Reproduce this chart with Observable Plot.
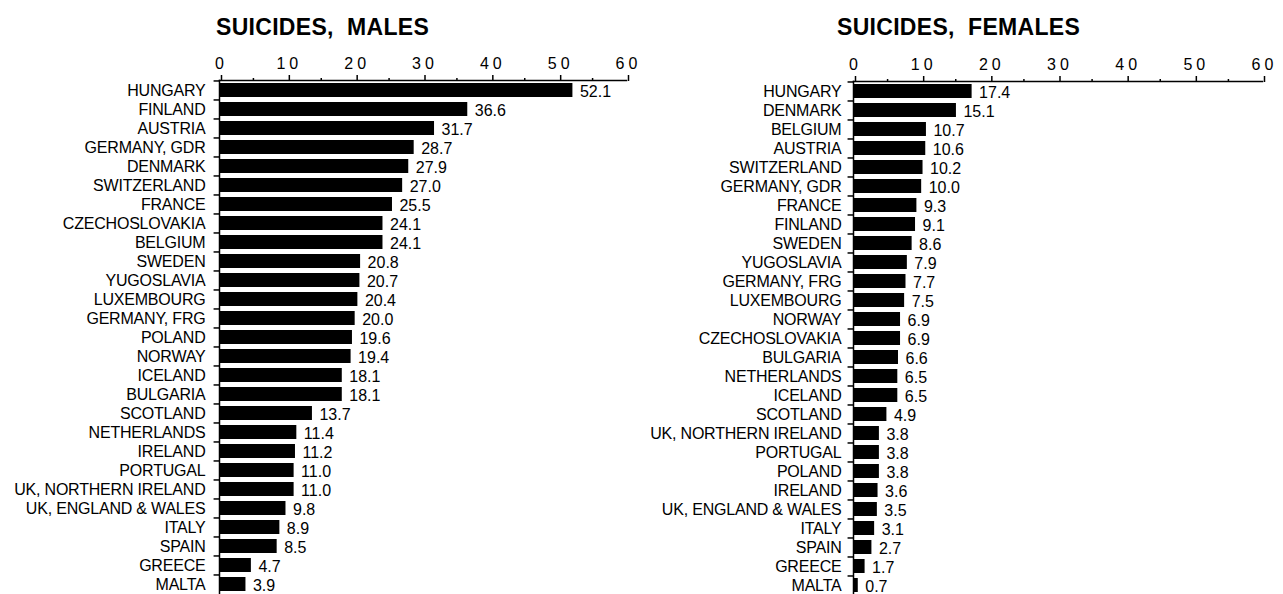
<!DOCTYPE html>
<html>
<head>
<meta charset="utf-8">
<script src="https://cdn.jsdelivr.net/npm/d3@7"></script>
<script src="https://cdn.jsdelivr.net/npm/@observablehq/plot@0.6"></script>
<style>
  body { margin: 0; background: #fff; }
  #wrap { position: relative; width: 1283px; height: 594px; overflow: hidden; font-family: "Liberation Sans", Arial, sans-serif; }
  .title { position: absolute; font-weight: bold; font-size: 23px; letter-spacing: 0.3px; white-space: pre; color: #000; line-height: 1; }
  .panel { position: absolute; top: 0; }
  .panel svg { overflow: visible; }
  .panel g[aria-label="x-axis tick label"] text { letter-spacing: 4px; }
  .panel g[aria-label="y-axis tick label"] text { letter-spacing: -0.2px; }
  .panel g[aria-label="text"] text { font-size: 16px; }
</style>
</head>
<body>
<div id="wrap">
  <div class="title" style="left:216px; top:16px;">SUICIDES,  MALES</div>
  <div class="title" style="left:837px; top:16px;">SUICIDES,  FEMALES</div>
  <div class="panel" id="left" style="left:0px;"></div>
  <div class="panel" id="right" style="left:640px;"></div>
</div>
<script>
const maleCountries = ["HUNGARY","FINLAND","AUSTRIA","GERMANY, GDR","DENMARK","SWITZERLAND","FRANCE","CZECHOSLOVAKIA","BELGIUM","SWEDEN","YUGOSLAVIA","LUXEMBOURG","GERMANY, FRG","POLAND","NORWAY","ICELAND","BULGARIA","SCOTLAND","NETHERLANDS","IRELAND","PORTUGAL","UK, NORTHERN IRELAND","UK, ENGLAND & WALES","ITALY","SPAIN","GREECE","MALTA"];
const maleValues = [52.1,36.6,31.7,28.7,27.9,27.0,25.5,24.1,24.1,20.8,20.7,20.4,20.0,19.6,19.4,18.1,18.1,13.7,11.4,11.2,11.0,11.0,9.8,8.9,8.5,4.7,3.9];

const femaleCountries = ["HUNGARY","DENMARK","BELGIUM","AUSTRIA","SWITZERLAND","GERMANY, GDR","FRANCE","FINLAND","SWEDEN","YUGOSLAVIA","GERMANY, FRG","LUXEMBOURG","NORWAY","CZECHOSLOVAKIA","BULGARIA","NETHERLANDS","ICELAND","SCOTLAND","UK, NORTHERN IRELAND","PORTUGAL","POLAND","IRELAND","UK, ENGLAND & WALES","ITALY","SPAIN","GREECE","MALTA"];
const femaleValues = [17.4,15.1,10.7,10.6,10.2,10.0,9.3,9.1,8.6,7.9,7.7,7.5,6.9,6.9,6.6,6.5,6.5,4.9,3.8,3.8,3.8,3.6,3.5,3.1,2.7,1.7,0.7];

const majorTicks = [0,10,20,30,40,50,60];
const minorTicks = [5,15,25,35,45,55];

function panel(countries, values, opts) {
  const data = countries.map((c, i) => ({country: c, value: values[i]}));
  const n = countries.length;
  const pi = 0.27, po = 0.107;
  const step = (opts.height - opts.marginTop - opts.marginBottom) / (n - pi + 2 * po);
  return Plot.plot({
    width: opts.width,
    height: opts.height,
    marginLeft: opts.marginLeft,
    marginRight: opts.marginRight,
    marginTop: opts.marginTop,
    marginBottom: opts.marginBottom,
    style: {fontFamily: "'Liberation Sans', Arial, sans-serif", fontSize: "16px", color: "#000", background: "transparent"},
    x: {domain: [0, 60], label: null},
    y: {domain: countries, paddingInner: pi, paddingOuter: po, label: null},
    marks: [
      Plot.barX(data, {x: "value", y: "country", fill: "#000"}),
      Plot.text(data, {x: "value", y: "country", text: d => d.value.toFixed(1), textAnchor: "start", dx: 7, dy: 1, fill: "#000", fontSize: 16}),
      Plot.ruleY(data, {y: "country", x1: 0, x2: -0.8, dy: -step / 2, stroke: "#000", strokeWidth: 1.5}),
      Plot.frame({anchor: "top", stroke: "#000", strokeWidth: 1.5}),
      Plot.frame({anchor: "left", stroke: "#000", strokeWidth: 1.5}),
      Plot.axisX(majorTicks, {anchor: "top", label: null, tickSize: 6, tickPadding: 6, dx: 2, tickFormat: d => String(d), fontSize: 16, strokeWidth: 1.5}),
      Plot.axisX(minorTicks, {anchor: "top", label: null, tickSize: 3, tickFormat: () => "", strokeWidth: 1.5}),
      Plot.axisY({label: null, tickSize: 0, tickPadding: opts.labelPad, fontSize: 16})
    ]
  });
}

document.getElementById("left").appendChild(panel(maleCountries, maleValues, {
  width: 640, height: 594, marginLeft: 219, marginRight: 14, marginTop: 80, marginBottom: 0, labelPad: 14
}));
document.getElementById("right").appendChild(panel(femaleCountries, femaleValues, {
  width: 643, height: 594, marginLeft: 213, marginRight: 21, marginTop: 81, marginBottom: 0, labelPad: 12
}));
</script>
</body>
</html>
